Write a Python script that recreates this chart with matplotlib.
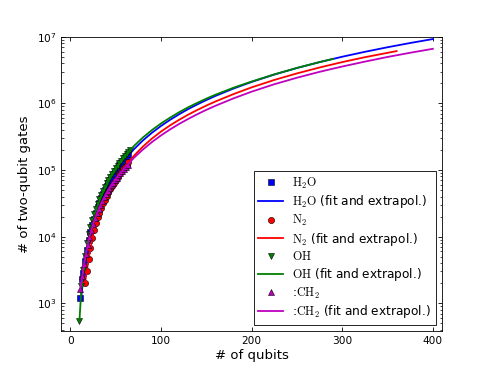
import matplotlib
matplotlib.use('Agg')
import matplotlib.pyplot as plt

plt.rcParams['mathtext.fontset'] = 'cm'
plt.rcParams['xtick.direction'] = 'in'
plt.rcParams['ytick.direction'] = 'in'
plt.rcParams['xtick.top'] = True
plt.rcParams['ytick.right'] = True

# data points (qubits, two-qubit gates)
h2o_q = [11, 13, 14, 16, 18, 20, 22, 24, 26, 28, 30, 32, 34, 36, 38, 40, 42, 44, 46, 48,
         50, 52, 54, 56, 58, 60, 62, 64]
h2o_g = [1200, 2300, 2800, 4300, 6300, 8800, 11800, 15000, 18700, 22800, 27400, 32400,
         37800, 43700, 50000, 56800, 64000, 71700, 79800, 88400, 97500, 107000, 117000,
         127000, 138000, 149000, 160000, 172000]

n2_q = [16, 18, 20, 22, 24, 26, 28, 30, 32, 34, 36, 38, 40, 42, 44, 46, 48, 50, 52, 54,
        56, 58, 60, 62, 64]
n2_g = [2000, 3000, 4600, 6800, 9500, 12500, 15800, 19500, 23000, 27000, 31500, 36000,
        41000, 46500, 52000, 58000, 64500, 71500, 78500, 86000, 94000, 102000, 111000,
        120000, 130000]

oh_q = [10, 12, 14, 16, 18, 20, 22, 24, 26, 28, 30, 32, 34, 36, 38, 40, 42, 44, 46, 48,
        50, 52, 54, 56, 58, 60, 62, 64, 66]
oh_g = [550, 1800, 3200, 5200, 8000, 10800, 14000, 17700, 21800, 26300, 31200, 36600,
        42500, 48800, 55600, 62800, 70500, 78700, 87300, 96400, 106000, 116000, 127000,
        138000, 150000, 162000, 175000, 188000, 202000]

ch2_q = [11, 13, 15, 17, 19, 21, 23, 25, 27, 29, 31, 33, 35, 37, 39, 41, 43, 45, 47, 49,
         51, 53, 55, 57, 59, 61, 63]
ch2_g = [1650, 2600, 3900, 5500, 7500, 9900, 12500, 15500, 18800, 22300, 26000, 30000,
         34200, 38700, 43400, 48300, 53500, 59000, 64700, 70700, 77000, 83500, 90300,
         97300, 104500, 112000, 120000]

# fit and extrapolation curves
h2o_fit_q = [12, 14, 17, 20, 25, 30, 35, 40, 45, 50, 55, 60, 70, 80, 90, 100, 110, 120,
             130, 140, 150, 160, 180, 200, 225, 250, 275, 300, 325, 350, 375, 400]
h2o_fit_g = [1230, 2350, 4750, 8040, 15500, 25600, 38300, 53800, 71900, 92800, 116500,
             143000, 204600, 278000, 362600, 459000, 567000, 688000, 822000, 966000,
             1.123e6, 1.294e6, 1.672e6, 2.10e6, 2.71e6, 3.40e6, 4.17e6, 5.02e6, 5.95e6,
             6.97e6, 8.07e6, 9.25e6]

n2_fit_q = [16, 18, 20, 25, 30, 35, 40, 45, 50, 55, 60, 70, 80, 90, 100, 110, 120, 130,
            140, 150, 160, 180, 200, 225, 250, 275, 300, 325, 360]
n2_fit_g = [2000, 3000, 4600, 10800, 19500, 30000, 41500, 56000, 72000, 91000, 112000,
            163000, 225000, 297000, 378000, 468000, 568000, 678000, 797000, 927000,
            1.068e6, 1.38e6, 1.74e6, 2.25e6, 2.82e6, 3.46e6, 4.17e6, 4.94e6, 6.1e6]

oh_fit_q = [10, 12, 14, 17, 20, 25, 30, 35, 40, 45, 50, 55, 60, 70, 80, 90, 100, 110,
            120, 130, 140, 150, 160, 180, 200, 225, 250, 275, 290]
oh_fit_g = [560, 1600, 2900, 5600, 9300, 17800, 29300, 43800, 61500, 82000, 105500,
            132000, 161000, 229000, 308000, 398000, 500000, 612000, 738000, 875000,
            1.02e6, 1.18e6, 1.35e6, 1.72e6, 2.13e6, 2.73e6, 3.41e6, 4.17e6, 4.66e6]

ch2_fit_q = [11, 15, 20, 25, 30, 35, 40, 45, 50, 55, 60, 70, 80, 90, 100, 110, 120, 130,
             140, 150, 160, 180, 200, 225, 250, 275, 300, 325, 350, 375, 400]
ch2_fit_g = [1650, 3900, 8700, 15500, 24000, 34000, 46000, 59500, 74000, 90500, 108000,
             152000, 203000, 263000, 331000, 407000, 492000, 585000, 688000, 800000,
             920000, 1.19e6, 1.50e6, 1.94e6, 2.43e6, 2.98e6, 3.58e6, 4.24e6, 4.98e6,
             5.76e6, 6.6e6]

fig = plt.figure(figsize=(4.91, 3.68), dpi=100)
ax = fig.add_axes([0.125, 0.1, 0.775, 0.8])

mk = dict(linestyle='none', markersize=4.5, markeredgecolor='black', markeredgewidth=0.4)

ax.plot(h2o_q, h2o_g, marker='s', color='b', label=r'$\mathrm{H_2O}$', **mk)
ax.plot(h2o_fit_q, h2o_fit_g, '-', color='b', lw=1.3,
        label=r'$\mathrm{H_2O}$ (fit and extrapol.)')
ax.plot(n2_q, n2_g, marker='o', color='r', label=r'$\mathrm{N_2}$', **mk)
ax.plot(n2_fit_q, n2_fit_g, '-', color='r', lw=1.3,
        label=r'$\mathrm{N_2}$ (fit and extrapol.)')
ax.plot(oh_q, oh_g, marker='v', color='g', label=r'$\mathrm{OH}$', **mk)
ax.plot(oh_fit_q, oh_fit_g, '-', color='g', lw=1.3,
        label=r'$\mathrm{OH}$ (fit and extrapol.)')
ax.plot(ch2_q, ch2_g, marker='^', color='m', label=r':$\mathrm{CH_2}$', **mk)
ax.plot(ch2_fit_q, ch2_fit_g, '-', color='m', lw=1.3,
        label=r':$\mathrm{CH_2}$ (fit and extrapol.)')

ax.set_yscale('log')
ax.set_xlim(-10, 410)
ax.set_ylim(380, 1e7)
ax.set_xticks([0, 100, 200, 300, 400])
ax.tick_params(which='major', length=3.2, width=0.6, labelsize=7.6)
ax.tick_params(which='minor', length=1.8, width=0.5)
for s in ax.spines.values():
    s.set_linewidth(0.6)

ax.set_xlabel('# of qubits', fontsize=9.5, labelpad=2)
ax.set_ylabel('# of two-qubit gates', fontsize=9.5)

leg = ax.legend(loc='lower right', numpoints=1, fontsize=8.7, fancybox=False,
                framealpha=1, edgecolor='black', labelspacing=0.22)
leg.get_frame().set_linewidth(0.6)

fig.savefig('out.png', dpi=100)
